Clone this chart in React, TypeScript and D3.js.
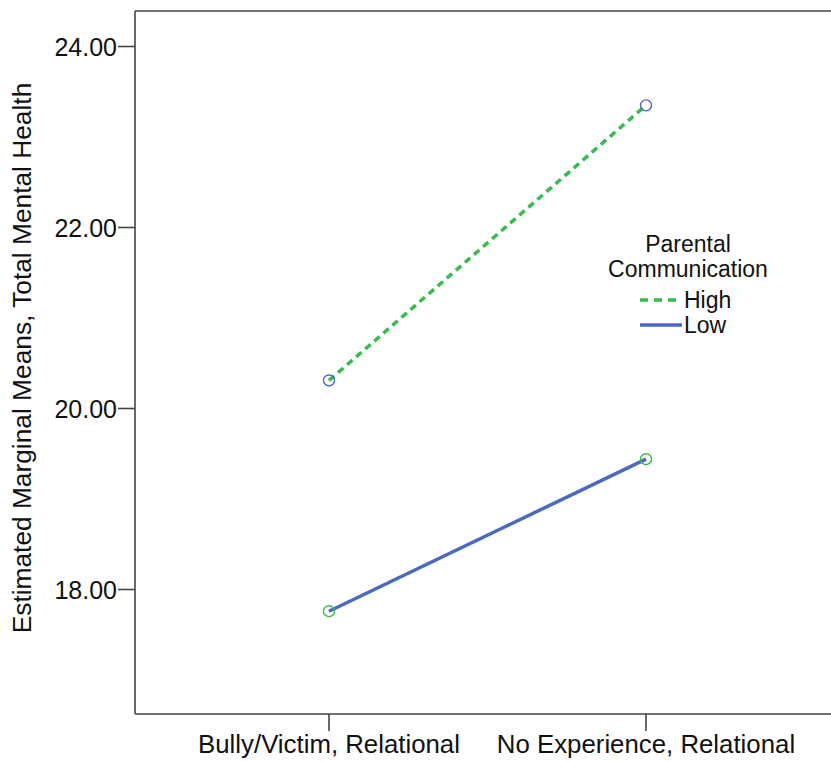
import React from "react";
import * as d3 from "d3";

const categories = ["Bully/Victim, Relational", "No Experience, Relational"];
const highValues = [20.31, 23.35];
const lowValues = [17.76, 19.44];
const yTicks = [18, 20, 22, 24];
const legendTitle = ["Parental", "Communication"];
const seriesNames = ["High", "Low"];

const W = 831;
const H = 762;
const left = 135;
const top = 11;
const bottom = 714;
const right = 845;

const GREEN = "#36bb4f";
const BLUE = "#4a69c0";
const AXIS = "#444";
const FONT = "'Liberation Sans', Arial, Helvetica, sans-serif";

export default function App() {
  const y = d3.scaleLinear().domain([24 - (bottom - 46.5) / 90.5, 24 + (46.5 - top) / 90.5]).range([bottom, top]);
  const x = d3.scalePoint<string>().domain(categories).range([329, 646]);
  const line = d3
    .line<number>()
    .x((_, i) => x(categories[i]) as number)
    .y((v) => y(v));

  const series = [
    { name: seriesNames[0], values: highValues, color: GREEN, dash: "7,5", marker: BLUE },
    { name: seriesNames[1], values: lowValues, color: BLUE, dash: undefined, marker: GREEN },
  ];

  return (
    <svg
      width={W}
      height={H}
      style={{ position: "absolute", left: 0, top: 0, background: "#fff" }}
      fontFamily={FONT}
    >
      <rect x={0} y={0} width={W} height={H} fill="#fff" />
      <line x1={left} y1={top} x2={right} y2={top} stroke={AXIS} strokeWidth={1.6} />
      <line x1={left} y1={top} x2={left} y2={bottom} stroke={AXIS} strokeWidth={1.6} />
      <line x1={left} y1={bottom} x2={right} y2={bottom} stroke={AXIS} strokeWidth={1.6} />
      {yTicks.map((t) => (
        <g key={t}>
          <line x1={left - 17} x2={left} y1={y(t)} y2={y(t)} stroke={AXIS} strokeWidth={1.6} />
          <text x={left - 18} y={y(t)} dy="0.36em" textAnchor="end" fontSize={25} fill="#111">
            {t.toFixed(2)}
          </text>
        </g>
      ))}
      {categories.map((c) => (
        <g key={c}>
          <line x1={x(c)} x2={x(c)} y1={bottom} y2={bottom + 17} stroke={AXIS} strokeWidth={1.6} />
          <text x={x(c)} y={753} textAnchor="middle" fontSize={25.8} fill="#111">
            {c}
          </text>
        </g>
      ))}
      <text
        transform={`translate(31,${358}) rotate(-90)`}
        textAnchor="middle"
        fontSize={26.3}
        fill="#111"
      >
        Estimated Marginal Means, Total Mental Health
      </text>
      {series.map((s) => (
        <g key={s.name}>
          <path
            d={line(s.values) as string}
            fill="none"
            stroke={s.color}
            strokeWidth={3.5}
            strokeDasharray={s.dash}
          />
          {s.values.map((v, i) => (
            <circle
              key={i}
              cx={x(categories[i])}
              cy={y(v)}
              r={5.5}
              fill="none"
              stroke={s.marker}
              strokeWidth={1.4}
            />
          ))}
        </g>
      ))}
      {legendTitle.map((t, i) => (
        <text key={t} x={688} y={252 + i * 25} textAnchor="middle" fontSize={23} fill="#111">
          {t}
        </text>
      ))}
      {series.map((s, i) => (
        <g key={s.name}>
          <line
            x1={640}
            x2={682}
            y1={300 + i * 25}
            y2={300 + i * 25}
            stroke={s.color}
            strokeWidth={3.5}
            strokeDasharray={s.dash ? "8,6" : undefined}
          />
          <text x={684} y={300 + i * 25} dy="0.36em" fontSize={23} fill="#111">
            {s.name}
          </text>
        </g>
      ))}
    </svg>
  );
}
